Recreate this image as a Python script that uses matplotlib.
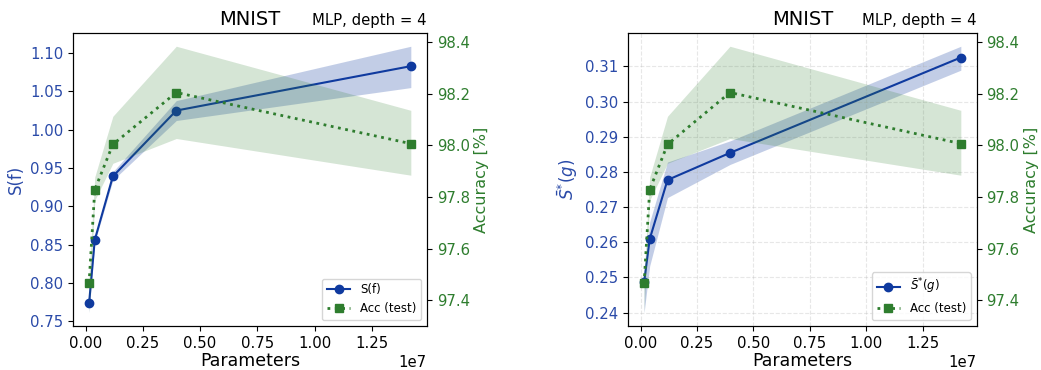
import numpy as np
import matplotlib
matplotlib.use("Agg")
import matplotlib.pyplot as plt

# ── DATA ──────────────────────────────────────────────────────────
params = [1.51e5, 4.0e5, 1.19e6, 3.96e6, 1.42e7]

s_f = [0.773, 0.856, 0.939, 1.025, 1.083]
s_f_lo = [0.761, 0.853, 0.934, 1.012, 1.055]
s_f_hi = [0.781, 0.859, 0.945, 1.038, 1.109]

s_g = [0.2486, 0.2609, 0.2777, 0.2854, 0.3125]
s_g_lo = [0.2400, 0.2533, 0.2727, 0.2821, 0.3089]
s_g_hi = [0.2496, 0.2658, 0.2828, 0.2888, 0.3157]

acc = [97.465, 97.828, 98.003, 98.204, 98.006]
acc_lo = [97.352, 97.787, 97.93, 98.026, 97.884]
acc_hi = [97.50, 97.877, 98.112, 98.383, 98.135]

BLUE = "#0f3a9f"
BLUE_TXT = "#2a4aa8"
GREEN = "#2e7d2e"

PANELS = [
    (s_f, s_f_lo, s_f_hi, "S(f)", False, [0.0701, 0.119, 0.340, 0.792]),
    (s_g, s_g_lo, s_g_hi, r"$\bar{S}^{*}(g)$", True, [0.6035, 0.119, 0.3347, 0.792]),
]

fig = plt.figure(figsize=(10.41, 3.70), dpi=100)

for vals, lo, hi, label, grid, rect in PANELS:
    ax = fig.add_axes(rect)
    ax2 = ax.twinx()

    ax.fill_between(params, lo, hi, color=BLUE, alpha=0.25, linewidth=0)
    l1, = ax.plot(params, vals, color=BLUE, marker="o", markersize=6,
                  linewidth=1.5, label=label)

    ax2.fill_between(params, acc_lo, acc_hi, color=GREEN, alpha=0.2, linewidth=0)
    l2, = ax2.plot(params, acc, color=GREEN, marker="s", markersize=6,
                   linestyle=":", linewidth=2, label="Acc (test)")

    ax.set_xlabel("Parameters", fontsize=12.5, labelpad=1)
    ax.set_ylabel(label, color=BLUE_TXT, fontsize=12)
    ax2.set_ylabel("Accuracy [%]", color=GREEN, fontsize=11.5, labelpad=3)
    ax.tick_params(axis="y", labelcolor=BLUE_TXT, labelsize=10.7)
    ax.tick_params(axis="x", labelsize=10.7)
    ax2.tick_params(axis="y", labelcolor=GREEN, labelsize=10.7)
    ax.xaxis.get_offset_text().set_fontsize(10.7)
    ax.set_xticks([0, 0.25e7, 0.5e7, 0.75e7, 1.0e7, 1.25e7])
    ax2.set_yticks([97.4, 97.6, 97.8, 98.0, 98.2, 98.4])

    if grid:
        ax.grid(True, linestyle="--", alpha=0.3)

    ax.set_title("MNIST", fontsize=14)
    ax.set_title("MLP, depth = 4", loc="right", fontsize=10.7)

    leg = ax2.legend([l1, l2], [label, "Acc (test)"], loc="lower right",
                     fontsize=8.5)

fig.savefig("out.png", dpi=100)
